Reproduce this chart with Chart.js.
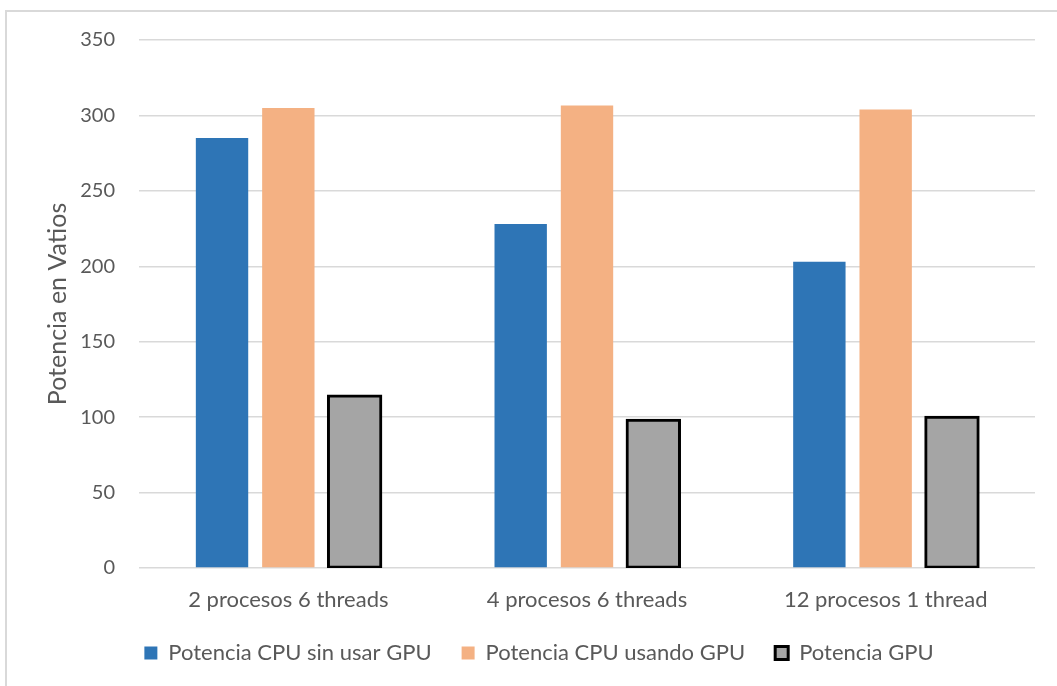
<!DOCTYPE html>
<html>
<head>
<meta charset="utf-8">
<script src="https://cdn.jsdelivr.net/npm/chart.js@4.4.1/dist/chart.umd.min.js"></script>
<style>
  html, body { margin: 0; padding: 0; background: #fff; }
  #wrap { position: relative; width: 1057px; height: 686px; overflow: hidden; }
  #frame { position: absolute; left: 5px; top: 10px; width: 1100px; height: 720px;
           border-left: 2px solid #d9d9d9; border-top: 2px solid #d9d9d9; box-sizing: border-box; }
  canvas { position: absolute; left: 0; top: 0; }
</style>
</head>
<body>
<div id="wrap">
  <div id="frame"></div>
  <canvas id="c" width="1057" height="686"></canvas>
</div>
<script>
// Power draw per configuration (watts)
const categories = ['2 procesos 6 threads', '4 procesos 6 threads', '12 procesos 1 thread'];
const cpuSinGpu = [285, 228, 203];
const cpuConGpu = [305, 306.5, 304];
const gpu = [114, 98, 100];
const seriesNames = ['Potencia CPU sin usar GPU', 'Potencia CPU usando GPU', 'Potencia GPU'];
const yTicks = [0, 50, 100, 150, 200, 250, 300, 350];

const FONT = 'Lato, "Open Sans", sans-serif';
const TEXT = '#595959';

new Chart(document.getElementById('c'), {
  type: 'bar',
  data: {
    labels: categories,
    datasets: [
      { label: seriesNames[0], data: cpuSinGpu, backgroundColor: '#2e75b6', borderWidth: 0 },
      { label: seriesNames[1], data: cpuConGpu, backgroundColor: '#f4b183', borderWidth: 0 },
      { label: seriesNames[2], data: gpu, backgroundColor: '#a5a5a5', borderColor: '#000000',
        borderWidth: 3, borderSkipped: false, inflateAmount: 1.5 }
    ]
  },
  options: {
    responsive: false,
    animation: false,
    devicePixelRatio: 1,
    categoryPercentage: 0.666,
    barPercentage: 0.79,
    layout: { padding: { left: 43, right: 22, top: 40, bottom: 12 } },
    plugins: {
      tooltip: { enabled: false },
      legend: {
        position: 'bottom',
        labels: {
          font: { family: FONT, size: 22 },
          color: TEXT,
          boxWidth: 13,
          boxHeight: 13,
          padding: 30
        }
      }
    },
    scales: {
      x: {
        grid: { display: false, drawTicks: false },
        border: { display: false },
        ticks: { font: { family: FONT, size: 22, lineHeight: 1 }, color: TEXT, padding: 21 },
        afterFit: (s) => { s.height = 44; }
      },
      y: {
        min: 0,
        max: 350,
        afterBuildTicks: (s) => { s.ticks = yTicks.map(v => ({ value: v })); },
        grid: { color: '#d9d9d9', lineWidth: 1.5, drawTicks: false },
        border: { display: false },
        ticks: { font: { family: FONT, size: 20 }, color: TEXT, padding: 24 },
        title: {
          display: true,
          text: 'Potencia en Vatios',
          font: { family: FONT, size: 25 },
          color: TEXT,
          padding: { top: 0, bottom: 0 }
        },
        afterFit: (s) => { s.width = 96; }
      }
    }
  }
});
</script>
</body>
</html>
